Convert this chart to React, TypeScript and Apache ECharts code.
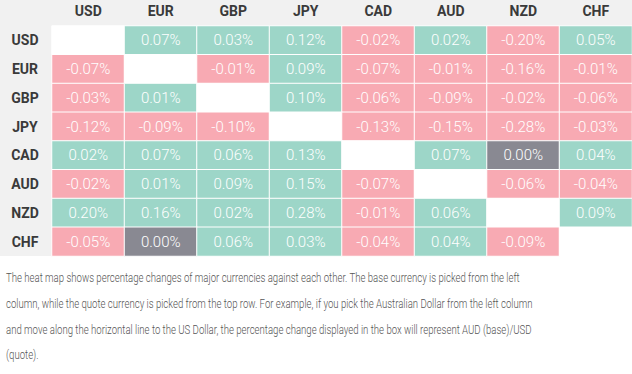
import React, { useEffect, useRef } from "react";
import * as echarts from "echarts";

const currencies = ["USD", "EUR", "GBP", "JPY", "CAD", "AUD", "NZD", "CHF"];

// rows = base currency (left column), columns = quote currency (top row)
const rowUSD = [null, 0.07, 0.03, 0.12, -0.02, 0.02, -0.2, 0.05];
const rowEUR = [-0.07, null, -0.01, 0.09, -0.07, -0.01, -0.16, -0.01];
const rowGBP = [-0.03, 0.01, null, 0.1, -0.06, -0.09, -0.02, -0.06];
const rowJPY = [-0.12, -0.09, -0.1, null, -0.13, -0.15, -0.28, -0.03];
const rowCAD = [0.02, 0.07, 0.06, 0.13, null, 0.07, 0.0, 0.04];
const rowAUD = [-0.02, 0.01, 0.09, 0.15, -0.07, null, -0.06, -0.04];
const rowNZD = [0.2, 0.16, 0.02, 0.28, -0.01, 0.06, null, 0.09];
const rowCHF = [-0.05, 0.0, 0.06, 0.03, -0.04, 0.04, -0.09, null];

const rows: (number | null)[][] = [rowUSD, rowEUR, rowGBP, rowJPY, rowCAD, rowAUD, rowNZD, rowCHF];

const descriptionLines = [
  "The heat map shows percentage changes of major currencies against each other. The base currency is picked from the left",
  "column, while the quote currency is picked from the top row. For example, if you pick the Australian Dollar from the left column",
  "and move along the horizontal line to the US Dollar, the percentage change displayed in the box will represent AUD (base)/USD",
  "(quote).",
];

const WHITE = "#ffffff";
const GREEN = "#9dd6c8";
const PINK = "#f8aab3";
const GREY = "#898992";

export default function App() {
  const ref = useRef<HTMLDivElement>(null);

  useEffect(() => {
    if (!ref.current) return;
    const chart = echarts.init(ref.current, undefined, { renderer: "svg" });

    // code: 0 = same currency (diagonal), 1 = up, 2 = down, 3 = unchanged
    const cells: any[] = [];
    rows.forEach((row, r) => {
      row.forEach((v, c) => {
        if (v === null) {
          cells.push([c, r, 0, 0]);
        } else {
          cells.push([c, r, v, v > 0 ? 1 : v < 0 ? 2 : 3]);
        }
      });
    });

    const lineYs = [278, 304, 330, 355];

    chart.setOption({
      animation: false,
      backgroundColor: "#ffffff",
      graphic: [
        {
          type: "rect",
          z: 0,
          silent: true,
          shape: { x: 0, y: 0, width: 632, height: 256 },
          style: { fill: "#f1f1f1" },
        },
        ...descriptionLines.map((t, i) => ({
          type: "text",
          x: 6,
          y: lineYs[i],
          scaleX: 0.8,
          z: 10,
          style: {
            text: t,
            fill: "#555555",
            font: "300 12px Roboto",
            textVerticalAlign: "middle",
          },
        })),
      ],
      visualMap: {
        type: "piecewise",
        show: false,
        dimension: 3,
        seriesIndex: 0,
        pieces: [
          { value: 0, color: WHITE },
          { value: 1, color: GREEN },
          { value: 2, color: PINK },
          { value: 3, color: GREY },
        ],
      },
      grid: { left: 52, top: 26, width: 583, height: 230 },
      xAxis: {
        type: "category",
        data: currencies,
        position: "top",
        axisLine: { show: false },
        axisTick: { show: false },
        splitLine: { show: false },
        axisLabel: {
          color: "#3a3a3a",
          fontFamily: "Roboto",
          fontWeight: "bold",
          fontSize: 14,
          margin: 8,
        },
      },
      yAxis: {
        type: "category",
        data: currencies,
        inverse: true,
        axisLine: { show: false },
        axisTick: { show: false },
        splitLine: { show: false },
        axisLabel: {
          color: "#3a3a3a",
          fontFamily: "Roboto",
          fontWeight: "bold",
          fontSize: 14,
          align: "center",
          margin: 27,
        },
      },
      series: [
        {
          type: "heatmap",
          name: "change",
          data: cells,
          itemStyle: { borderColor: "#ffffff", borderWidth: 1 },
          label: {
            show: true,
            color: "#ffffff",
            fontFamily: "Roboto",
            fontWeight: 300,
            fontSize: 15,
            formatter: (p: any) =>
              p.value[3] === 0 ? "" : p.value[2].toFixed(2) + "%",
          },
          emphasis: { disabled: true },
        },
      ],
    });

    return () => chart.dispose();
  }, []);

  return (
    <div
      ref={ref}
      style={{ position: "absolute", left: 0, top: 0, width: 632, height: 374 }}
    />
  );
}
